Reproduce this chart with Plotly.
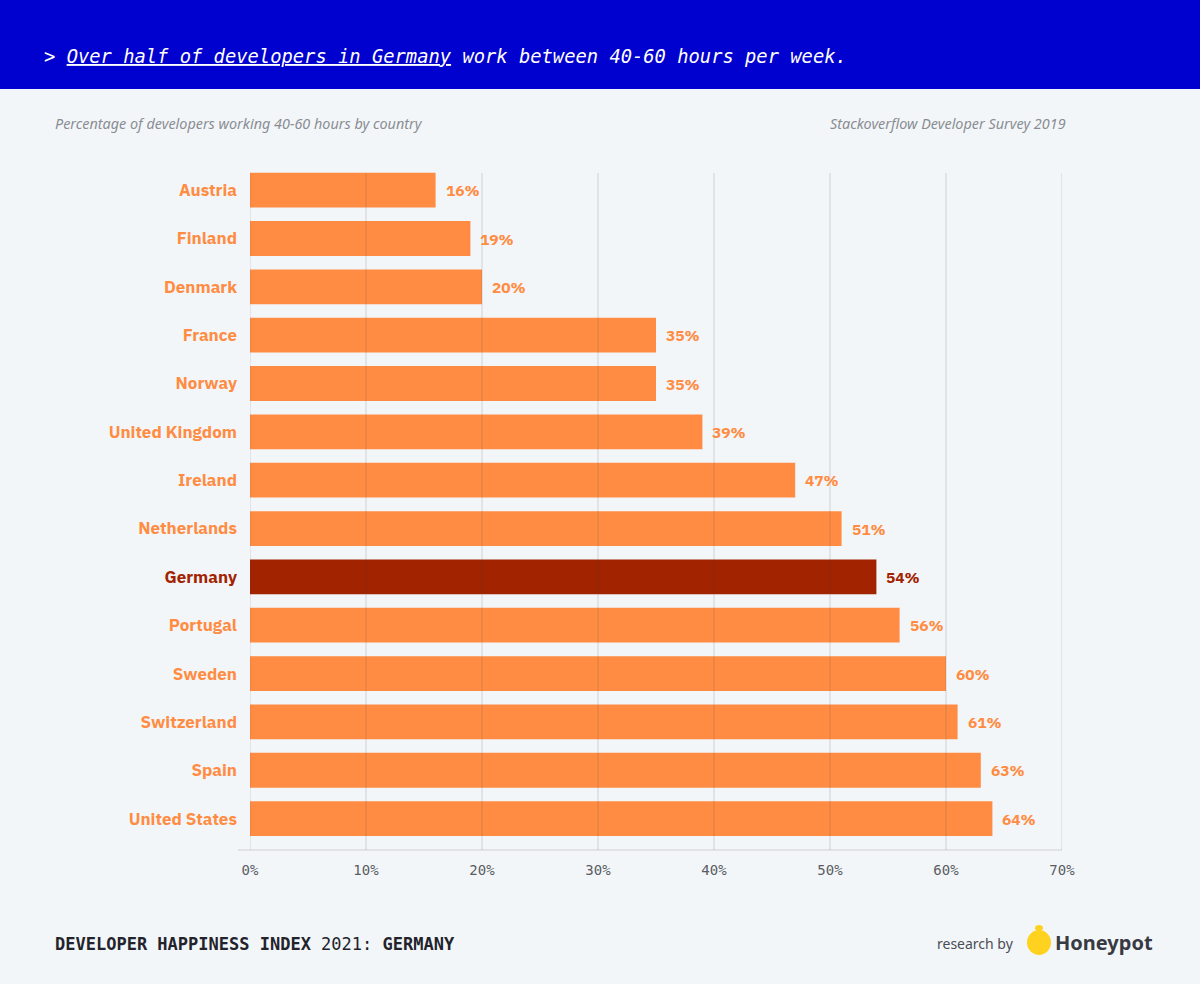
import plotly.graph_objects as go

countries = ["Austria", "Finland", "Denmark", "France", "Norway", "United Kingdom", "Ireland",
             "Netherlands", "Germany", "Portugal", "Sweden", "Switzerland", "Spain", "United States"]
values = [16, 19, 20, 35, 35, 39, 47, 51, 54, 56, 60, 61, 63, 64]
x_ticks = [0, 10, 20, 30, 40, 50, 60, 70]
x_tick_labels = [f"{v}%" for v in x_ticks]
highlight = "Germany"

ORANGE = "#FF8C42"
DARK = "#A12300"
BG = "#F3F6F9"

colors = [DARK if c == highlight else ORANGE for c in countries]
ticktext = [f"<span style='color:{col}'><b>{c}</b></span>" for c, col in zip(countries, colors)]

fig = go.Figure()
fig.add_trace(go.Bar(
    x=values, y=countries, orientation="h",
    marker=dict(color=colors, line=dict(width=0)),
    width=0.72, hoverinfo="skip",
))

for c, v, col in zip(countries, values, colors):
    fig.add_annotation(x=v, y=c, text=f"<b>{v}%</b>", showarrow=False,
                       xanchor="left", xshift=8, yshift=0,
                       font=dict(family="IBM Plex Sans, Noto Sans, sans-serif", size=15.5, color=col))

PL, PR, PT, PB = 250, 1062, 166, 850
W, H = 1200, 984
pw, ph = PR - PL, PB - PT

def px(x):
    return (x - PL) / pw

def py(y):
    return (PB - y) / ph

# grid lines drawn above bars
for t in x_ticks:
    fig.add_shape(type="line", xref="x", yref="paper", x0=t, x1=t, y0=0, y1=py(173),
                  line=dict(color="rgba(60,60,70,0.2)", width=1), layer="above")
fig.add_shape(type="line", xref="paper", yref="paper", x0=px(PL - 12), x1=1.0, y0=0, y1=0,
              line=dict(color="rgba(60,60,70,0.2)", width=1), layer="above")

# header band
fig.add_shape(type="rect", xref="paper", yref="paper", x0=px(0), x1=px(W), y0=py(89), y1=py(0),
              fillcolor="#0000CF", line=dict(width=0), layer="below")

fig.add_annotation(xref="paper", yref="paper", x=px(42), y=py(56), xanchor="left", yanchor="middle",
                   text="<i>&gt; <u>Over half of developers in Germany</u> work between 40-60 hours per week.</i>",
                   showarrow=False,
                   font=dict(family="DejaVu Sans Mono, monospace", size=18.8, color="white"))

fig.add_annotation(xref="paper", yref="paper", x=px(53), y=py(123), xanchor="left", yanchor="middle",
                   text="<i>Percentage of developers working 40-60 hours by country</i>", showarrow=False,
                   font=dict(family="Noto Sans, sans-serif", size=14.4, color="#8A8D93"))
fig.add_annotation(xref="paper", yref="paper", x=px(1068), y=py(123), xanchor="right", yanchor="middle",
                   text="<i>Stackoverflow Developer Survey 2019</i>", showarrow=False,
                   font=dict(family="Noto Sans, sans-serif", size=14.4, color="#8A8D93"))

fig.add_annotation(xref="paper", yref="paper", x=px(53), y=py(944), xanchor="left", yanchor="middle",
                   text="<b>DEVELOPER HAPPINESS INDEX</b> 2021: <b>GERMANY</b>", showarrow=False,
                   font=dict(family="DejaVu Sans Mono, monospace", size=17, color="#22232B"))

fig.add_annotation(xref="paper", yref="paper", x=px(1016), y=py(943), xanchor="right", yanchor="middle",
                   text="research by", showarrow=False,
                   font=dict(family="Noto Sans, sans-serif", size=14, color="#4A4D55"))
# logo approximation
fig.add_shape(type="circle", xref="paper", yref="paper", x0=px(1027), x1=px(1051), y0=py(955), y1=py(930),
              fillcolor="#FFD21F", line=dict(width=0))
fig.add_shape(type="circle", xref="paper", yref="paper", x0=px(1035), x1=px(1043), y0=py(931), y1=py(925),
              fillcolor="#FFD21F", line=dict(width=0))
fig.add_annotation(xref="paper", yref="paper", x=px(1053), y=py(942), xanchor="left", yanchor="middle",
                   text="<b>Honeypot</b>", showarrow=False,
                   font=dict(family="Noto Sans, sans-serif", size=20, color="#373A42"))

fig.update_layout(
    width=W, height=H,
    margin=dict(l=PL, r=W - PR, t=PT, b=H - PB, pad=0),
    paper_bgcolor=BG, plot_bgcolor=BG,
    showlegend=False, bargap=0.28,
    xaxis=dict(range=[0, 70], tickvals=x_ticks, ticktext=x_tick_labels, showgrid=False,
               zeroline=False, showline=False, ticks="", ticklabelstandoff=10,
               tickfont=dict(family="DejaVu Sans Mono, monospace", size=14, color="#5A5D63")),
    yaxis=dict(categoryorder="array", categoryarray=countries, range=[13.5 + 0.15, -0.5],
               tickvals=countries, ticktext=ticktext, showgrid=False, zeroline=False, showline=False,
               ticks="", ticklabelstandoff=12,
               tickfont=dict(family="IBM Plex Sans, Noto Sans, sans-serif", size=17, color=ORANGE)),
)

fig.write_html("out.html", config={"displayModeBar": False},
               post_script="document.body.style.margin='0';document.body.style.background='%s';" % BG)
